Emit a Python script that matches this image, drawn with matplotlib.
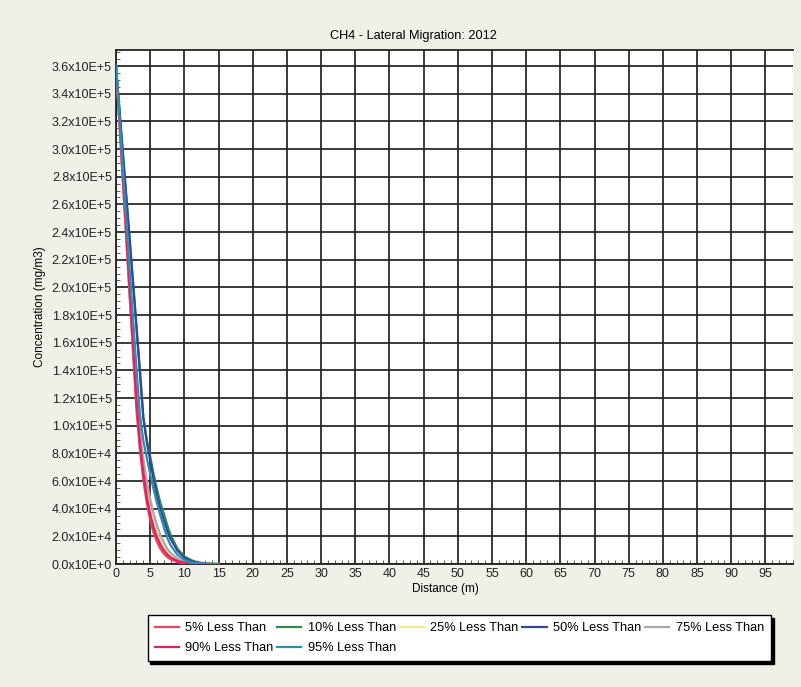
import numpy as np
import matplotlib
matplotlib.use('Agg')
import matplotlib.pyplot as plt
from matplotlib.ticker import MultipleLocator, FuncFormatter

# Data

DIST = [0, 1, 2, 2.5, 3, 3.5, 4, 4.5, 5, 5.5, 6, 6.5, 7, 7.5, 8, 9, 10, 11, 12, 13, 14, 15]

P05 = [360000, 277000, 193000, 152000, 111000, 82000, 61000, 44000, 32000, 22500, 16000,
       11000, 7500, 5000, 3300, 1400, 500, 150, 0, 0, 0, 0]
P10 = [360000, 297000, 234000, 202000, 170000, 138000, 106000, 90000, 78000, 65000, 54000,
       44000, 36500, 28000, 21000, 11000, 5500, 2800, 1200, 500, 100, 0]
P25 = [360000, 280000, 200000, 161000, 122000, 91000, 70000, 53000, 40000, 30000, 22500,
       16500, 12000, 8500, 6000, 2800, 1100, 400, 100, 0, 0, 0]
P50 = [360000, 298000, 235000, 204000, 172000, 140000, 106000, 88000, 75000, 61000, 49000,
       39500, 31500, 24000, 18000, 9500, 4500, 2000, 800, 200, 0, 0]
P75 = [360000, 282000, 204000, 166000, 128000, 96000, 76000, 60000, 47000, 36500, 28000,
       21000, 15500, 11000, 8000, 3800, 1600, 600, 200, 0, 0, 0]
P90 = [360000, 279000, 197000, 157000, 117000, 88000, 66000, 49000, 36000, 26500, 19500,
       14000, 10000, 7000, 4800, 2200, 900, 300, 80, 0, 0, 0]
P95 = [360000, 286000, 213000, 177000, 141000, 108000, 89000, 77000, 65000, 54000, 44000,
       35000, 26500, 19000, 13500, 6500, 3000, 1200, 400, 100, 0, 0]

LABELS = ['5% Less Than', '10% Less Than', '25% Less Than', '50% Less Than',
          '75% Less Than', '90% Less Than', '95% Less Than']
SERIES = [P05, P10, P25, P50, P75, P90, P95]
COLORS = ['#e8445e', '#2f8a45', '#f2ea8a', '#34479c', '#a8a8a8', '#e0206a', '#2b8fb3']

BG = '#eff1e8'
FONT = 'Liberation Sans'


def sci_fmt(v, pos):
    if abs(v) < 1:
        return '0.0x10E+0'
    if v < 0:
        return ''
    exp = int(np.floor(np.log10(v)))
    return f'{v / 10**exp:.1f}x10E+{exp}'


fig = plt.figure(figsize=(8.01, 6.87), dpi=100, facecolor=BG)
ax = fig.add_axes([0.1448, 0.179, 0.845, 0.748])
ax.set_facecolor('white')

lines = []
for vals, lab, col in zip(SERIES, LABELS, COLORS):
    ln, = ax.plot(DIST, vals, color=col, lw=1.6, label=lab, zorder=3)
    lines.append(ln)

ax.set_xlim(0, 99)
ax.set_ylim(0, 371500)
ax.set_xticks(list(range(0, 100, 5)))
ax.xaxis.set_minor_locator(MultipleLocator(1))
ax.set_yticks(list(range(0, 360001, 20000)))
ax.yaxis.set_minor_locator(MultipleLocator(5000))
ax.yaxis.set_major_formatter(FuncFormatter(sci_fmt))

ax.grid(True, which='major', color='#222222', lw=1.25, zorder=1)
ax.tick_params(which='major', length=0, pad=3, labelsize=9, colors='#222222')
ax.tick_params(which='minor', length=3, direction='in', color='#444444')
for lab in ax.get_xticklabels() + ax.get_yticklabels():
    lab.set_fontfamily(FONT)

for side in ['left', 'bottom', 'top']:
    ax.spines[side].set_color('#222222')
    ax.spines[side].set_linewidth(1.3)
ax.spines['right'].set_visible(False)

ax.set_xlabel('Distance (m)', fontsize=8.5, family=FONT)
ax.xaxis.set_label_coords(0.487, -0.036)
ax.set_ylabel('Concentration (mg/m3)', fontsize=8.5, family=FONT, labelpad=4)
ax.set_title('CH4 - Lateral Migration: 2012', fontsize=9.2, family=FONT, x=0.44, pad=8)

# matplotlib fills legend columns first, so reorder to read row by row
order = [0, 5, 1, 6, 2, 3, 4]
leg = fig.legend(handles=[lines[i] for i in order], loc='lower left',
                 bbox_to_anchor=(0.1843, 0.0378, 0.778, 0.0655), borderaxespad=0,
                 ncol=5, mode='expand', frameon=True, fancybox=False,
                 shadow={'color': 'black', 'alpha': 1}, handlelength=1.9, handletextpad=0.5,
                 borderpad=0.55, labelspacing=0.6, columnspacing=1.0,
                 prop={'family': FONT, 'size': 9.2})
leg.get_frame().set_edgecolor('black')
leg.get_frame().set_linewidth(1.0)

plt.savefig('out.png', dpi=100, facecolor=BG)
plt.close()
